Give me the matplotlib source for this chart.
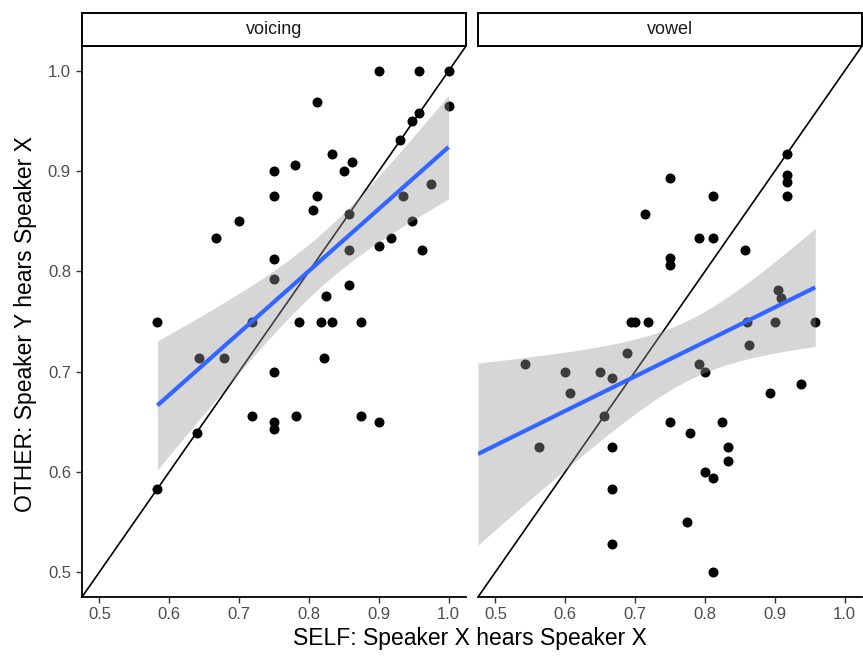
import numpy as np
import matplotlib
matplotlib.use("Agg")
import matplotlib.pyplot as plt

plt.rcParams['font.family'] = ['Liberation Sans', 'DejaVu Sans']

# ---- data -------------------------------------------------------------
panels = ["voicing", "vowel"]

voicing_self = [0.900, 0.957, 1.000, 0.812, 1.000, 0.957, 0.947, 0.931, 0.833, 0.862,
                0.750, 0.780, 0.850, 0.975, 0.750, 0.812, 0.935, 0.806, 0.857, 0.700,
                0.947, 0.667, 0.917, 0.900, 0.962, 0.857, 0.750, 0.750, 0.857, 0.824,
                0.583, 0.719, 0.786, 0.818, 0.833, 0.875, 0.643, 0.679, 0.821, 0.750,
                0.719, 0.750, 0.750, 0.781, 0.875, 0.900, 0.639, 0.583]
voicing_other = [1.000, 1.000, 1.000, 0.969, 0.965, 0.958, 0.950, 0.931, 0.917, 0.909,
                 0.900, 0.906, 0.900, 0.887, 0.875, 0.875, 0.875, 0.861, 0.857, 0.850,
                 0.850, 0.833, 0.833, 0.825, 0.821, 0.821, 0.812, 0.792, 0.786, 0.775,
                 0.750, 0.750, 0.750, 0.750, 0.750, 0.750, 0.714, 0.714, 0.714, 0.700,
                 0.656, 0.650, 0.643, 0.656, 0.656, 0.650, 0.639, 0.583]

vowel_self = [0.917, 0.917, 0.917, 0.917, 0.750, 0.812, 0.714, 0.792, 0.812, 0.857,
              0.750, 0.750, 0.905, 0.909, 0.694, 0.700, 0.719, 0.861, 0.900, 0.958,
              0.863, 0.688, 0.542, 0.792, 0.600, 0.650, 0.800, 0.667, 0.938, 0.607,
              0.893, 0.656, 0.563, 0.750, 0.825, 0.778, 0.667, 0.833, 0.833, 0.800,
              0.812, 0.667, 0.775, 0.667, 0.812]
vowel_other = [0.917, 0.896, 0.889, 0.875, 0.893, 0.875, 0.857, 0.833, 0.833, 0.821,
               0.813, 0.806, 0.781, 0.773, 0.750, 0.750, 0.750, 0.750, 0.750, 0.750,
               0.727, 0.719, 0.708, 0.708, 0.700, 0.700, 0.700, 0.694, 0.688, 0.679,
               0.679, 0.656, 0.625, 0.650, 0.650, 0.639, 0.625, 0.625, 0.611, 0.600,
               0.594, 0.583, 0.550, 0.528, 0.500]

xticks = [0.5, 0.6, 0.7, 0.8, 0.9, 1.0]
yticks = [0.5, 0.6, 0.7, 0.8, 0.9, 1.0]
xlabel = "SELF: Speaker X hears Speaker X"
ylabel = "OTHER: Speaker Y hears Speaker X"

# ---- helpers ----------------------------------------------------------
def t_quantile(df, z=1.959964):
    # Cornish-Fisher expansion of the Student t 97.5% quantile
    return (z + (z**3 + z) / (4 * df)
            + (5 * z**5 + 16 * z**3 + 3 * z) / (96 * df**2))


def lm_band(x, y, grid):
    x = np.asarray(x); y = np.asarray(y)
    n = len(x)
    b, a = np.polyfit(x, y, 1)
    resid = y - (a + b * x)
    s = np.sqrt(np.sum(resid**2) / (n - 2))
    sxx = np.sum((x - x.mean())**2)
    fit = a + b * grid
    se = s * np.sqrt(1.0 / n + (grid - x.mean())**2 / sxx)
    t = t_quantile(n - 2)
    return fit, fit - t * se, fit + t * se


# ---- figure -----------------------------------------------------------
W, H = 863, 656
fig = plt.figure(figsize=(W / 100, H / 100), dpi=100)
fig.patch.set_facecolor("white")

lims = (0.475, 1.025)
axes_px = [(82, 466), (478, 862)]
top_px, bottom_px, strip_top_px = 46, 597, 13

data = [(voicing_self, voicing_other), (vowel_self, vowel_other)]

for i, (name, (xs, ys)) in enumerate(zip(panels, data)):
    x0, x1 = axes_px[i]
    ax = fig.add_axes([x0 / W, 1 - bottom_px / H, (x1 - x0) / W,
                       (bottom_px - top_px) / H])
    ax.set_xlim(lims)
    ax.set_ylim(lims)
    ax.set_facecolor("white")

    ax.scatter(xs, ys, s=52, color="black", linewidths=0, zorder=2)
    ax.axline((0.5, 0.5), slope=1, color="black", lw=1.2, zorder=3)

    lo = min(xs) if i == 0 else lims[0]
    grid = np.linspace(lo, max(xs), 80)
    fit, low, high = lm_band(xs, ys, grid)
    ax.fill_between(grid, low, high, color="#999999", alpha=0.4,
                    linewidth=0, zorder=4)
    ax.plot(grid, fit, color="#3366FF", lw=3.0, zorder=5,
            solid_capstyle="butt")

    for side in ("top", "right"):
        ax.spines[side].set_visible(False)
    ax.spines["bottom"].set_linewidth(1.3)
    ax.spines["left"].set_linewidth(1.3)
    if i == 1:
        ax.spines["left"].set_visible(False)

    ax.set_xticks(xticks)
    ax.set_xticklabels([f"{v:.1f}" for v in xticks])
    ax.tick_params(axis="x", length=4, width=1.0, colors="#333333",
                   labelcolor="#4D4D4D", labelsize=12, pad=3)
    if i == 0:
        ax.set_yticks(yticks)
        ax.set_yticklabels([f"{v:.1f}" for v in yticks])
        ax.tick_params(axis="y", length=4, width=1.0, colors="#333333",
                       labelcolor="#4D4D4D", labelsize=12, pad=4)
    else:
        ax.set_yticks([])

    # facet strip
    sax = fig.add_axes([x0 / W, 1 - top_px / H, (x1 - x0) / W,
                        (top_px - strip_top_px) / H])
    sax.set_xticks([]); sax.set_yticks([])
    sax.set_facecolor("white")
    for sp in sax.spines.values():
        sp.set_linewidth(1.4)
        sp.set_color("black")
    sax.text(0.5, 0.5, name, ha="center", va="center", fontsize=13,
             color="#1A1A1A", transform=sax.transAxes)

fig.text(470 / W, 1 - 638 / H, xlabel, ha="center", va="center",
         fontsize=16.5, color="black")
fig.text(26 / W, 1 - 324 / H, ylabel, ha="center", va="center",
         fontsize=16.5, color="black", rotation=90)

fig.savefig("out.png", dpi=100, facecolor="white")
